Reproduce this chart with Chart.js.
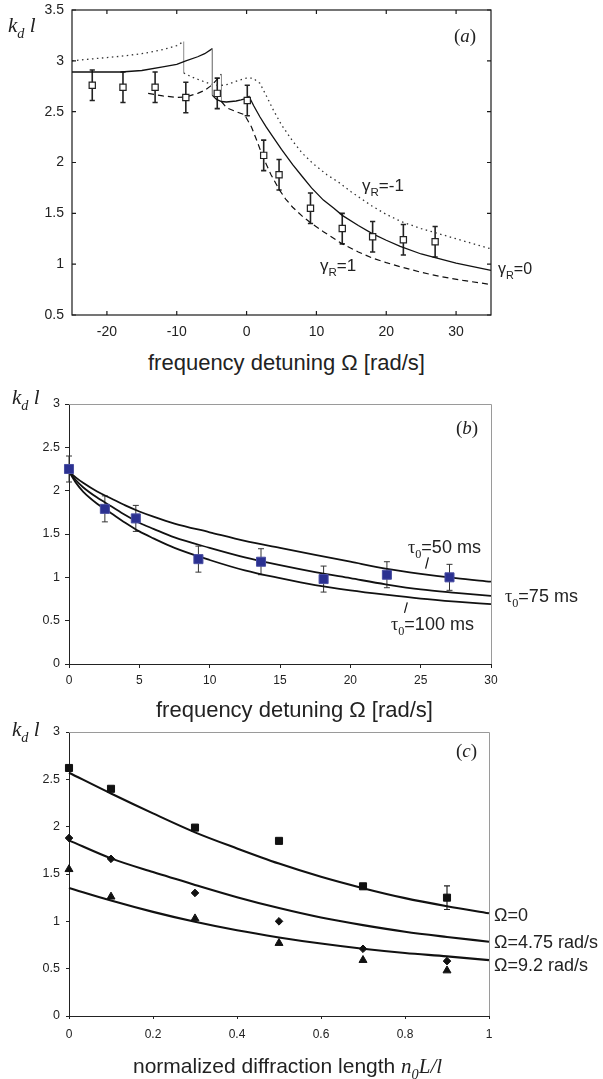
<!DOCTYPE html>
<html>
<head>
<meta charset="utf-8">
<script src="https://cdn.jsdelivr.net/npm/chart.js@4.4.1/dist/chart.umd.min.js"></script>
<style>
  body { margin: 0; background: #fff; }
  #page { position: relative; width: 603px; height: 1079px; overflow: hidden; color: #222;
          font-family: 'Liberation Sans', Arial, sans-serif; }
  canvas { position: absolute; left: 0; }
  .t { position: absolute; white-space: nowrap; line-height: 1; }
  .it { font-family: 'Liberation Serif', 'Times New Roman', serif; font-style: italic; }
  .rm { font-family: 'Liberation Serif', 'Times New Roman', serif; }
  .sub { font-size: 0.68em; position: relative; top: 0.42em; }
</style>
</head>
<body>
<div id="page">
  <canvas id="chartA" width="603" height="350" style="top:0"></canvas>
  <canvas id="chartB" width="603" height="300" style="top:390px"></canvas>
  <canvas id="chartC" width="603" height="340" style="top:718px"></canvas>

  <!-- panel (a) text -->
  <div class="t it" style="left:8px;top:15px;font-size:21px">k<span class="sub">d</span> l</div>
  <div class="t rm" style="left:454px;top:26px;font-size:19px">(<span class="it">a</span>)</div>
  <div class="t" style="left:362px;top:177px;font-size:17px">&gamma;<span class="sub">R</span>=-1</div>
  <div class="t" style="left:320px;top:257px;font-size:17px">&gamma;<span class="sub">R</span>=1</div>
  <div class="t" style="left:498px;top:261px;font-size:16px">&gamma;<span class="sub">R</span>=0</div>
  <div class="t" style="left:148px;top:352px;font-size:22px">frequency detuning &Omega; [rad/s]</div>

  <!-- panel (b) text -->
  <div class="t it" style="left:12px;top:387px;font-size:21px">k<span class="sub">d</span> l</div>
  <div class="t rm" style="left:456px;top:418px;font-size:19px">(<span class="it">b</span>)</div>
  <div class="t" style="left:408px;top:538px;font-size:18px"><span class="rm">&tau;</span><span class="sub rm">0</span>=50 ms</div>
  <div class="t" style="left:505px;top:587px;font-size:18px"><span class="rm">&tau;</span><span class="sub rm">0</span>=75 ms</div>
  <div class="t" style="left:391px;top:615px;font-size:18px"><span class="rm">&tau;</span><span class="sub rm">0</span>=100 ms</div>
  <div class="t" style="left:156px;top:699px;font-size:22px">frequency detuning &Omega; [rad/s]</div>

  <!-- panel (c) text -->
  <div class="t it" style="left:12px;top:719px;font-size:21px">k<span class="sub">d</span> l</div>
  <div class="t rm" style="left:456px;top:741px;font-size:19px">(<span class="it">c</span>)</div>
  <div class="t" style="left:494px;top:906px;font-size:18px">&Omega;=0</div>
  <div class="t" style="left:494px;top:933px;font-size:18px">&Omega;=4.75 rad/s</div>
  <div class="t" style="left:494px;top:956px;font-size:18px">&Omega;=9.2 rad/s</div>
  <div class="t" style="left:133px;top:1055px;font-size:21px">normalized diffraction length <span class="it">n<span class="sub">0</span>L/l</span></div>
</div>

<script>
// (a) kd*l against detuning: measured points and the three gamma_R model curves
const omegaA = [-22.1, -17.7, -13.1, -8.7, -4.2, 0.1, 2.45, 4.65, 9.15, 13.7, 18.05, 22.45, 27.0];
const kdlA = [2.76, 2.74, 2.74, 2.64, 2.68, 2.61, 2.07, 1.88, 1.55, 1.35, 1.27, 1.24, 1.22];
const errA = [0.15, 0.15, 0.15, 0.15, 0.15, 0.15, 0.15, 0.15, 0.15, 0.15, 0.15, 0.15, 0.15];

const gammaZeroX = [-25, -22, -18, -15, -12, -10, -8.7, -7, -6, -4.9, -4.9, -4.3, -3.6, -2.9, -2.2, -1.5, -0.8, 0, 0.35,
  1.0, 1.9, 2.8, 3.8, 5.0, 6.6, 8.0, 9.3, 11, 12.5, 13.7, 16, 18, 20, 22, 25, 27, 30, 35];
const gammaZeroY = [2.89, 2.89, 2.89, 2.905, 2.94, 2.965, 3.0, 3.04, 3.07, 3.12, 2.66, 2.62, 2.60, 2.595, 2.60, 2.605, 2.615, 2.63, 2.65,
  2.56, 2.45, 2.35, 2.25, 2.13, 1.98, 1.86, 1.75, 1.63, 1.55, 1.48, 1.38, 1.30, 1.235, 1.175, 1.10, 1.065, 1.01, 0.94];

const gammaMinusX = [-25, -22, -18, -15, -12, -10, -9.0, -9.0, -7.8, -6.7, -5.5, -4.5, -3.4, -2.6, -1.9, -1.0, 0, 0.9, 1.9,
  2.8, 3.8, 5.0, 6.6, 8.0, 9.5, 11.5, 13.3, 15, 16.5, 18, 20, 22.1, 25, 28.5, 32, 35];
const gammaMinusY = [3.00, 3.02, 3.045, 3.07, 3.11, 3.15, 3.19, 2.88, 2.84, 2.81, 2.78, 2.76, 2.76, 2.77, 2.79, 2.81, 2.83, 2.83, 2.78,
  2.66, 2.52, 2.37, 2.21, 2.09, 1.99, 1.88, 1.80, 1.71, 1.64, 1.57, 1.49, 1.42, 1.35, 1.28, 1.21, 1.15];

const gammaPlusX = [-14.1, -12, -10, -8.7, -7, -6, -5, -4.2, -3.6, -3.6, -2.9, -1.5, -0.3, 0.7, 1.5, 2.3, 3.5, 4.7, 5.6,
  6.6, 8, 9.3, 11, 13.7, 16, 18, 20, 22, 25, 28, 31, 35];
const gammaPlusY = [2.68, 2.655, 2.64, 2.645, 2.68, 2.71, 2.76, 2.82, 2.87, 2.60, 2.54, 2.50, 2.47, 2.35, 2.21, 2.06, 1.88, 1.73, 1.64,
  1.56, 1.47, 1.40, 1.32, 1.20, 1.12, 1.06, 1.015, 0.975, 0.92, 0.875, 0.84, 0.80];

const ticksXA = [-20, -10, 0, 10, 20, 30];
const ticksYA = [0.5, 1, 1.5, 2, 2.5, 3, 3.5];

// (b) kd*l against detuning for three relaxation times
const omegaB = [0, 2.55, 4.75, 9.2, 13.65, 18.1, 22.6, 27.05];
const kdlB = [2.25, 1.79, 1.68, 1.21, 1.18, 0.98, 1.03, 1.00];
const errB = [0.15, 0.15, 0.15, 0.15, 0.15, 0.15, 0.15, 0.15];

const fitXB = [0, 0.5, 1, 2, 3, 4, 5, 6, 7.5, 10, 12.5, 15, 17.5, 20, 22.5, 25, 27.5, 30];
const tau50 = [2.22, 2.15, 2.09, 1.99, 1.91, 1.83, 1.76, 1.70, 1.62, 1.52, 1.42, 1.34, 1.26, 1.18, 1.10, 1.04, 0.99, 0.95];
const tau75 = [2.22, 2.12, 2.04, 1.92, 1.82, 1.72, 1.63, 1.56, 1.46, 1.34, 1.23, 1.14, 1.06, 0.99, 0.92, 0.86, 0.82, 0.785];
const tau100 = [2.22, 2.09, 1.99, 1.85, 1.74, 1.63, 1.53, 1.45, 1.34, 1.20, 1.08, 0.99, 0.91, 0.85, 0.80, 0.755, 0.72, 0.69];

// short pointer strokes from the tau labels to their curves
const leader50X = [25.55, 25.35];
const leader50Y = [1.23, 1.10];
const leader100X = [24.05, 23.85];
const leader100Y = [0.71, 0.59];

const ticksXB = [0, 5, 10, 15, 20, 25, 30];
const ticksYB = [0, 0.5, 1, 1.5, 2, 2.5, 3];

// (c) kd*l against normalized diffraction length
const lengthC = [0, 0.1, 0.3, 0.5, 0.7, 0.9];
const kdlOmega0 = [2.62, 2.40, 1.99, 1.85, 1.37, 1.25];
const kdlOmega475 = [1.88, 1.66, 1.30, 1.00, 0.71, 0.58];
const kdlOmega92 = [1.55, 1.26, 1.03, 0.77, 0.59, 0.48];
const errC = [0, 0, 0, 0, 0, 0.125];

const fitXC = [0, 0.1, 0.2, 0.3, 0.4, 0.5, 0.6, 0.7, 0.8, 0.9, 1.0];
const fitOmega0 = [2.57, 2.35, 2.14, 1.94, 1.77, 1.61, 1.47, 1.35, 1.245, 1.16, 1.085];
const fitOmega475 = [1.855, 1.665, 1.52, 1.385, 1.255, 1.14, 1.04, 0.96, 0.89, 0.835, 0.785];
const fitOmega92 = [1.353, 1.22, 1.10, 0.995, 0.905, 0.83, 0.765, 0.71, 0.665, 0.63, 0.59];

const ticksXC = [0, 0.2, 0.4, 0.6, 0.8, 1];
const ticksYC = [0, 0.5, 1, 1.5, 2, 2.5, 3];

const pts = (xs, ys) => xs.map((x, i) => ({ x: x, y: ys[i] }));
const fixedTicks = list => s => { s.ticks = list.map(v => ({ value: v })); };
const fixY = w => s => { s.width = w; s.paddingTop = 0; s.paddingBottom = 0; };
const fixX = h => s => { s.height = h; s.paddingLeft = 0; s.paddingRight = 0; };
const plain = v => String(v);
const sans = "'Liberation Sans', Arial, sans-serif";

// vertical error bars, read from dataset.errors
const errorBars = {
  id: 'errorBars',
  beforeDatasetsDraw(chart) {
    const ctx = chart.ctx;
    const x = chart.scales.x, y = chart.scales.y;
    chart.data.datasets.forEach(ds => {
      if (!ds.errors) return;
      ctx.save();
      ctx.strokeStyle = ds.errorColor || '#222';
      ctx.lineWidth = ds.errorWidth || 1;
      ds.data.forEach((p, i) => {
        const e = ds.errors[i];
        if (!e) return;
        const px = x.getPixelForValue(p.x);
        const top = y.getPixelForValue(p.y + e);
        const bot = y.getPixelForValue(p.y - e);
        const c = ds.capHalf || 3;
        ctx.beginPath();
        ctx.moveTo(px, top); ctx.lineTo(px, bot);
        ctx.moveTo(px - c, top); ctx.lineTo(px + c, top);
        ctx.moveTo(px - c, bot); ctx.lineTo(px + c, bot);
        ctx.stroke();
      });
      ctx.restore();
    });
  }
};

// closed box with tick marks pointing inwards on all four sides
const inwardFrame = {
  id: 'inwardFrame',
  afterDatasetsDraw(chart) {
    const { ctx, chartArea: a } = chart;
    const x = chart.scales.x, y = chart.scales.y;
    ctx.save();
    ctx.strokeStyle = '#1a1a1a';
    ctx.lineWidth = 1.2;
    ctx.strokeRect(a.left, a.top, a.right - a.left, a.bottom - a.top);
    ctx.beginPath();
    x.ticks.forEach(t => {
      const px = x.getPixelForValue(t.value);
      ctx.moveTo(px, a.bottom); ctx.lineTo(px, a.bottom - 4);
      ctx.moveTo(px, a.top); ctx.lineTo(px, a.top + 4);
    });
    y.ticks.forEach(t => {
      const py = y.getPixelForValue(t.value);
      ctx.moveTo(a.left, py); ctx.lineTo(a.left + 4, py);
      ctx.moveTo(a.right, py); ctx.lineTo(a.right - 4, py);
    });
    ctx.stroke();
    ctx.restore();
  }
};

// light grey top and right edges of the plot area
const greyBox = {
  id: 'greyBox',
  beforeDatasetsDraw(chart) {
    const { ctx, chartArea: a } = chart;
    ctx.save();
    ctx.strokeStyle = '#9a9a9a';
    ctx.lineWidth = 1;
    ctx.beginPath();
    ctx.moveTo(a.left, a.top + 0.5);
    ctx.lineTo(a.right + 0.5, a.top + 0.5);
    ctx.lineTo(a.right + 0.5, a.bottom);
    ctx.stroke();
    ctx.restore();
  }
};

// the jumps in the model curves are drawn as thin grey verticals
const jumpSegment = {
  borderColor: c => c.p0.parsed.x === c.p1.parsed.x ? '#8c8c8c' : undefined,
  borderDash: c => c.p0.parsed.x === c.p1.parsed.x ? [] : undefined,
  borderWidth: c => c.p0.parsed.x === c.p1.parsed.x ? 1 : undefined
};

const curve = (xs, ys, extra) => Object.assign({
  data: pts(xs, ys), showLine: true, pointRadius: 0, borderColor: '#111', borderWidth: 1.3,
  fill: false, clip: false
}, extra);

const baseOptions = pad => ({
  responsive: false,
  animation: false,
  events: [],
  layout: { padding: pad },
  plugins: { legend: { display: false }, tooltip: { enabled: false } }
});

// panel (a)
new Chart(document.getElementById('chartA'), {
  type: 'scatter',
  data: {
    datasets: [
      { data: pts(omegaA, kdlA), errors: errA, errorColor: '#222', errorWidth: 1.6, capHalf: 2.6,
        pointStyle: 'rect', pointRadius: 4.4, pointBackgroundColor: '#fff', pointBorderColor: '#222',
        pointBorderWidth: 1.2, clip: false },
      curve(gammaZeroX, gammaZeroY, { segment: jumpSegment }),
      curve(gammaMinusX, gammaMinusY, { borderDash: [1.5, 3.5], borderColor: '#333', segment: jumpSegment }),
      curve(gammaPlusX, gammaPlusY, { borderDash: [6, 4], borderWidth: 1.2, segment: jumpSegment })
    ]
  },
  options: Object.assign(baseOptions({ left: 0, right: 112, top: 10, bottom: 0 }), {
    scales: {
      x: {
        type: 'linear', min: -25, max: 35,
        afterBuildTicks: fixedTicks(ticksXA), afterFit: fixX(35),
        grid: { display: false, drawTicks: false }, border: { display: false },
        ticks: { font: { family: sans, size: 14 }, color: '#222', padding: 9, maxRotation: 0, autoSkip: false, callback: plain }
      },
      y: {
        min: 0.5, max: 3.5,
        afterBuildTicks: fixedTicks(ticksYA), afterFit: fixY(72),
        grid: { display: false, drawTicks: false }, border: { display: false },
        ticks: { font: { family: sans, size: 14 }, color: '#222', padding: 8, autoSkip: false, callback: plain }
      }
    }
  }),
  plugins: [errorBars, inwardFrame]
});

// panel (b)
new Chart(document.getElementById('chartB'), {
  type: 'scatter',
  data: {
    datasets: [
      { data: pts(omegaB, kdlB), errors: errB, errorColor: '#333', errorWidth: 1, capHalf: 3,
        pointStyle: 'rect', pointRadius: 6.4, pointBackgroundColor: '#2b3191', pointBorderColor: '#4a4fa3',
        pointBorderWidth: 1, clip: false },
      curve(fitXB, tau50, { borderWidth: 1.8, cubicInterpolationMode: 'monotone' }),
      curve(fitXB, tau75, { borderWidth: 1.8, cubicInterpolationMode: 'monotone' }),
      curve(fitXB, tau100, { borderWidth: 1.8, cubicInterpolationMode: 'monotone' }),
      curve(leader50X, leader50Y, { borderWidth: 1.2 }),
      curve(leader100X, leader100Y, { borderWidth: 1.2 })
    ]
  },
  options: Object.assign(baseOptions({ left: 0, right: 112, top: 14, bottom: 0 }), {
    scales: {
      x: {
        type: 'linear', min: 0, max: 30,
        afterBuildTicks: fixedTicks(ticksXB), afterFit: fixX(26),
        grid: { drawOnChartArea: false, drawTicks: true, tickLength: 4, color: '#222' },
        border: { color: '#222', width: 1 },
        ticks: { font: { family: sans, size: 12 }, color: '#222', padding: 5, maxRotation: 0, autoSkip: false, callback: plain }
      },
      y: {
        min: 0, max: 3,
        afterBuildTicks: fixedTicks(ticksYB), afterFit: fixY(69),
        grid: { drawOnChartArea: false, drawTicks: true, tickLength: 4, color: '#222' },
        border: { color: '#222', width: 1 },
        ticks: { font: { family: sans, size: 12.5 }, color: '#222', padding: 5, autoSkip: false, callback: plain }
      }
    }
  }),
  plugins: [greyBox, errorBars]
});

// panel (c)
new Chart(document.getElementById('chartC'), {
  type: 'scatter',
  data: {
    datasets: [
      { data: pts(lengthC, kdlOmega0), errors: errC, errorColor: '#222', errorWidth: 1.2, capHalf: 3,
        pointStyle: 'rect', pointRadius: 5, pointBackgroundColor: '#111', pointBorderColor: '#111', clip: false },
      { data: pts(lengthC, kdlOmega475), pointStyle: 'rectRot', pointRadius: 3.8,
        pointBackgroundColor: '#111', pointBorderColor: '#111', clip: false },
      { data: pts(lengthC, kdlOmega92), pointStyle: 'triangle', pointRadius: 4.6,
        pointBackgroundColor: '#111', pointBorderColor: '#111', clip: false },
      curve(fitXC, fitOmega0, { borderWidth: 2.1, cubicInterpolationMode: 'monotone' }),
      curve(fitXC, fitOmega475, { borderWidth: 2.1, cubicInterpolationMode: 'monotone' }),
      curve(fitXC, fitOmega92, { borderWidth: 2.1, cubicInterpolationMode: 'monotone' })
    ]
  },
  options: Object.assign(baseOptions({ left: 0, right: 114, top: 14, bottom: 0 }), {
    scales: {
      x: {
        type: 'linear', min: 0, max: 1,
        afterBuildTicks: fixedTicks(ticksXC), afterFit: fixX(42),
        grid: { drawOnChartArea: false, drawTicks: true, tickLength: 3, color: '#222' },
        border: { color: '#222', width: 1 },
        ticks: { font: { family: sans, size: 12 }, color: '#222', padding: 8, maxRotation: 0, autoSkip: false, callback: plain }
      },
      y: {
        min: 0, max: 3,
        afterBuildTicks: fixedTicks(ticksYC), afterFit: fixY(69),
        grid: { drawOnChartArea: false, drawTicks: true, tickLength: 3, color: '#222' },
        border: { color: '#222', width: 1 },
        ticks: { font: { family: sans, size: 12.5 }, color: '#222', padding: 6, autoSkip: false, callback: plain }
      }
    }
  }),
  plugins: [greyBox, errorBars]
});
</script>
</body>
</html>
